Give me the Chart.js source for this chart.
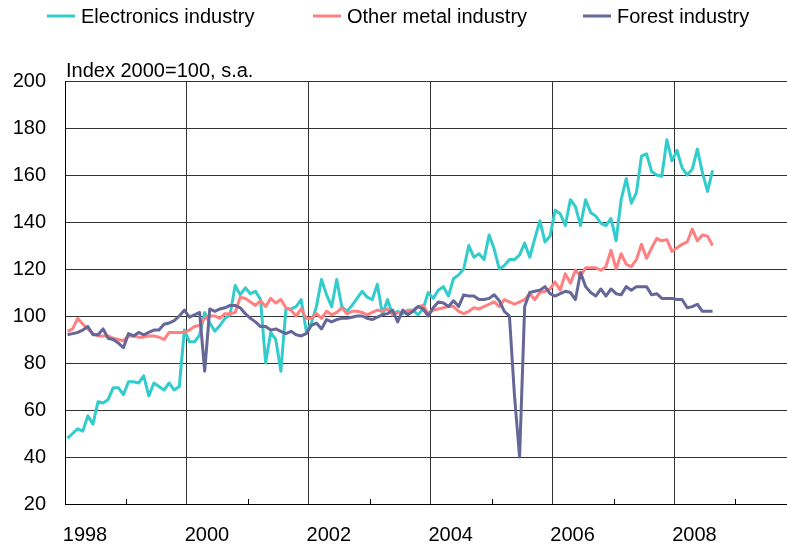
<!DOCTYPE html>
<html>
<head>
<meta charset="utf-8">
<script src="https://cdn.jsdelivr.net/npm/chart.js@4/dist/chart.umd.min.js"></script>
<style>
  body { margin: 0; background: #fff; }
  canvas { display: block; }
</style>
</head>
<body>
<canvas id="chart" width="787" height="551"></canvas>
<script>
// Monthly index values, Jan 1998 - Aug 2008 (index 2000=100, s.a.)
const seriesNames = ["Electronics industry", "Other metal industry", "Forest industry"];
const seriesColors = ["#33CCCC", "#FF8080", "#666699"];
const yearLabels = ["1998", "2000", "2002", "2004", "2006", "2008"];
const yTicks = [20, 40, 60, 80, 100, 120, 140, 160, 180, 200];
const axisTitle = "Index 2000=100, s.a.";

const electronics = [
  48, 50, 52, 51, 57.5, 54, 63.5, 63, 64.5, 69.5, 69.5, 66.5,
  72, 72, 71.5, 74.5, 66, 71.5, 70, 68.5, 71.5, 68.5, 70, 94,
  89, 89, 92, 101.5, 97, 93.5, 96, 99, 100.5, 113, 109, 112,
  109.5, 110.5, 107, 80, 93, 90, 76.5, 103, 103, 104, 107, 93.5,
  97, 104, 115.5, 109, 104, 115.5, 104, 102, 104.5, 107.5, 110.5, 108,
  107, 113.5, 100.5, 107, 100.5, 102, 101, 102.5, 102.5, 100.5, 103, 110,
  107.5, 111, 112.5, 108.5, 116, 117.5, 120, 130, 125, 126.5, 124, 134.5,
  128.5, 120, 121.5, 124, 124, 126, 131, 125, 133, 140.5, 131.5, 134,
  145, 143.5, 138.5, 149.5, 146.5, 138.5, 149.5, 144, 142.5, 139.5, 138.5, 141.5,
  132, 149.5, 158.5, 148, 152.5, 168, 169, 161.5, 160, 159.5, 175, 166,
  170.5, 163, 160, 162.5, 171, 161, 153, 162
];

const otherMetal = [
  93.5, 94.5, 99, 96.5, 94.5, 92.5, 91.5, 91.5, 91.5, 90.5, 90, 89.5,
  91.5, 91.5, 91, 91, 91.5, 91.5, 91, 90, 93, 93, 93, 93,
  94, 95.5, 96, 99, 100, 100, 99, 101, 101, 101.5, 108, 107.5,
  106, 104.5, 106.5, 104, 107.5, 105.5, 107, 103.5, 102.5, 100, 103, 99,
  99, 101, 99, 102, 100.5, 101.5, 103.5, 101, 102, 102, 101.5, 100.5,
  101.5, 102.5, 102, 103, 100.5, 101.5, 101.5, 102, 102.5, 104, 104.5, 101,
  102.5, 103, 103.5, 104, 104, 102, 101, 102, 103.5, 103, 104, 105,
  106, 104, 107, 106, 105, 106, 107, 109.5, 107, 110, 110.5, 111.5,
  114.5, 111, 118, 114, 119.5, 117, 120.5, 120.5, 120.5, 119.5, 121, 128,
  120, 126.5, 122, 121, 124, 130.5, 124.5, 129, 133, 132, 132.5, 127.5,
  129, 130.5, 131.5, 137, 132, 134.5, 134, 130
];

const forest = [
  92, 92.5, 93, 94, 95.5, 92, 92, 94.5, 90.5, 90, 88.5, 86.5,
  92.5, 91.5, 93, 92, 93, 94, 94, 96.5, 97, 98, 100, 102.5,
  99.5, 100.5, 101.5, 76.5, 103, 102, 103, 103.5, 104.5, 104.5, 103.5, 101,
  99, 97.5, 95.5, 95.5, 94, 94.5, 93.5, 92.5, 93.5, 92, 91.5, 92.5,
  96, 97, 94.5, 98.5, 97.5, 98.5, 99, 99, 99.5, 100, 100, 99,
  98.5, 99.5, 100.5, 101, 102.5, 97.5, 102.5, 100.5, 102, 104, 103, 100,
  103.5, 106, 105.5, 104, 106.5, 104, 109, 108.5, 108.5, 107, 107, 107.5,
  109, 106.5, 102, 100, 66, 40, 104, 110, 110.5, 111, 112.5, 109.5,
  108.5, 109.5, 110.5, 110, 107, 118.5, 112.5, 110, 108.5, 111.5, 108.5, 111.5,
  109.5, 109, 112.5, 111, 112.5, 112.5, 112.5, 109, 109.5, 107.5, 107.5, 107.5,
  107, 107, 103.5, 104, 105, 102, 102, 102
];

// months since Jan 1998, each value sits in the middle of its month
function toPoints(values) {
  return values.map((v, i) => ({ x: i + 0.5, y: v }));
}

const FONT = '"Liberation Sans", Arial, sans-serif';
Chart.defaults.font.family = FONT;
Chart.defaults.font.size = 20;
Chart.defaults.color = "#000";

// legend, axis caption and the short ticks on odd years
const decorations = {
  id: "decorations",
  afterDraw(chart) {
    const ctx = chart.ctx;
    const xs = chart.scales.x;
    const area = chart.chartArea;
    ctx.save();

    ctx.strokeStyle = "#000";
    ctx.lineWidth = 1;
    for (let v = 12; v < xs.max; v += 24) {
      const px = Math.round(xs.getPixelForValue(v)) + 0.5;
      ctx.beginPath();
      ctx.moveTo(px, area.bottom);
      ctx.lineTo(px, area.bottom - 5);
      ctx.stroke();
    }

    ctx.font = "20px " + FONT;
    ctx.fillStyle = "#000";
    ctx.textBaseline = "alphabetic";
    ctx.textAlign = "left";
    ctx.fillText(axisTitle, 66, 77);

    const legendX = [47, 313, 583];
    ctx.textBaseline = "middle";
    seriesNames.forEach((name, k) => {
      ctx.strokeStyle = seriesColors[k];
      ctx.lineWidth = 3;
      ctx.beginPath();
      ctx.moveTo(legendX[k], 16);
      ctx.lineTo(legendX[k] + 28, 16);
      ctx.stroke();
      ctx.fillStyle = "#000";
      ctx.fillText(name, legendX[k] + 34, 17);
    });
    ctx.restore();
  }
};

const seriesData = [electronics, otherMetal, forest];

new Chart(document.getElementById("chart"), {
  type: "line",
  data: {
    datasets: seriesData.map((vals, k) => ({
      label: seriesNames[k],
      data: toPoints(vals),
      borderColor: seriesColors[k],
      backgroundColor: seriesColors[k],
      borderWidth: 3,
      borderJoinStyle: "round",
      pointRadius: 0,
      tension: 0,
      order: 2 - k
    }))
  },
  options: {
    responsive: false,
    animation: false,
    devicePixelRatio: 1,
    layout: { padding: { top: 81, right: 0, bottom: 0, left: 0 } },
    plugins: {
      legend: { display: false },
      title: { display: false },
      tooltip: { enabled: false }
    },
    scales: {
      x: {
        type: "linear",
        min: 0,
        max: 142.15,
        afterFit: s => { s.height = 47; },
        border: { display: true, color: "#000", width: 1 },
        grid: {
          drawTicks: false,
          color: c => (c.tick && c.tick.value % 24 === 0) ? "#333" : "rgba(0,0,0,0)",
          lineWidth: 1
        },
        ticks: {
          stepSize: 12,
          includeBounds: false,
          autoSkip: false,
          maxRotation: 0,
          labelOffset: 20,
          padding: 19,
          callback: v => v % 24 === 0 ? yearLabels[v / 24] : ""
        }
      },
      y: {
        min: yTicks[0],
        max: yTicks[yTicks.length - 1],
        afterFit: s => { s.width = 65; },
        border: { display: true, color: "#000", width: 1 },
        grid: { drawTicks: false, color: "#333", lineWidth: 1 },
        ticks: { stepSize: 20, padding: 19 }
      }
    }
  },
  plugins: [decorations]
});
</script>
</body>
</html>
